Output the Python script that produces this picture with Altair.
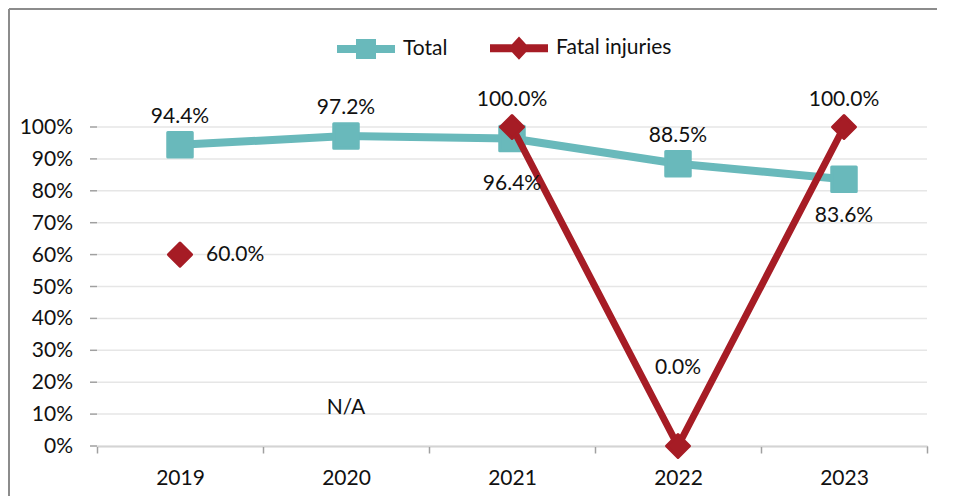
import altair as alt
import pandas as pd

years = ["2019", "2020", "2021", "2022", "2023"]
total = [94.4, 97.2, 96.4, 88.5, 83.6]
fatal = [60.0, None, 100.0, 0.0, 100.0]
series_names = ["Total", "Fatal injuries"]
series_colors = ["#69B9BB", "#A61C25"]
y_ticks = [0, 10, 20, 30, 40, 50, 60, 70, 80, 90, 100]

rows = []
for y, v in zip(years, total):
    rows.append({"year": y, "series": "Total", "value": v})
for y, v in zip(years, fatal):
    rows.append({"year": y, "series": "Fatal injuries", "value": v})
df = pd.DataFrame(rows)
ticks_df = pd.DataFrame({"value": y_ticks})

FONT = "Lato"
FS = 21
W, H = 830, 319
AXIS_COL = "#a0a0a0"

color_scale = alt.Scale(domain=series_names, range=series_colors)
legend_paths = [
    "M-1,-0.14H1V0.14H-1Z M-0.345,-0.345H0.345V0.345H-0.345Z",
    "M-1,-0.14H1V0.14H-1Z M0,-0.4L0.37,0L0,0.4L-0.37,0Z",
]

x_enc = alt.X(
    "year:N", sort=years,
    scale=alt.Scale(paddingInner=0, paddingOuter=0),
    axis=alt.Axis(title=None, labelAngle=0, tickBand="extent", grid=False,
                  domainColor=AXIS_COL, domainWidth=1.5, tickColor=AXIS_COL,
                  tickWidth=1.5, tickSize=7, labelPadding=14, labelFontSize=FS,
                  labelFont=FONT, labelColor="#111"),
)
y_scale = alt.Scale(domain=[0, 100], nice=False)
y_enc = alt.Y(
    "value:Q", scale=y_scale,
    axis=alt.Axis(title=None, labels=False, ticks=False, grid=False,
                  domainColor=AXIS_COL, domainWidth=1.5),
)
col_enc = alt.Color("series:N", scale=color_scale, legend=None)
stroke_enc = alt.Stroke("series:N", scale=color_scale, legend=None)

base = alt.Chart(df).encode(x=x_enc, y=y_enc)

tot = base.transform_filter("datum.series === 'Total'")
fat = base.transform_filter("datum.series === 'Fatal injuries'")

# y gridlines, ticks and labels from the tick list, positioned by the y scale
tick_base = alt.Chart(ticks_df).encode(y=alt.Y("value:Q", scale=y_scale, axis=None))
grid = tick_base.mark_rule(color="#e6e6e6", strokeWidth=1.5).encode(
    x=alt.value(0), x2=alt.value(W))
yticks = tick_base.mark_rule(color=AXIS_COL, strokeWidth=1.5).encode(
    x=alt.value(-7), x2=alt.value(0))
ylabels = tick_base.transform_calculate(label="datum.value + '%'").mark_text(
    font=FONT, fontSize=FS, color="#111", align="right", baseline="middle", dy=1
).encode(x=alt.value(-24), text="label:N")

leg = alt.Legend(orient="none", legendX=240, legendY=-108, direction="horizontal",
                 symbolSize=3364, symbolStrokeWidth=0, labelFont=FONT,
                 labelFontSize=FS, labelColor="#111", labelOffset=8,
                 columnPadding=42, padding=0, symbolOpacity=1)
legend_layer = base.transform_filter("false").mark_point(filled=True, opacity=1).encode(
    color=alt.Color("series:N", scale=color_scale, title=None, legend=leg),
    shape=alt.Shape("series:N", scale=alt.Scale(domain=series_names, range=legend_paths),
                    title=None, legend=leg),
)

tot_line = tot.mark_line(strokeWidth=8, strokeJoin="round", strokeCap="round").encode(color=col_enc)
tot_pts = tot.mark_point(shape="square", filled=True, size=600, opacity=1, strokeWidth=3,
                         strokeJoin="round").encode(color=col_enc, stroke=stroke_enc)
fat_line = fat.mark_line(strokeWidth=7, strokeJoin="round", strokeCap="round",
                         invalid="break-paths-filter-domains").encode(color=col_enc)
fat_pts = fat.transform_filter("isValid(datum.value)").mark_point(
    shape="diamond", filled=True, size=529, opacity=1, strokeWidth=3, strokeJoin="round"
).encode(color=col_enc, stroke=stroke_enc)

txt = dict(font=FONT, fontSize=FS, color="#111", baseline="middle")
lab = "format(datum.value, '.1f') + '%'"


def labels(src, yrs, **kw):
    return src.transform_filter(alt.FieldOneOfPredicate(field="year", oneOf=yrs)) \
        .transform_calculate(label=lab).mark_text(**txt, **kw).encode(text="label:N")


tot_above = labels(tot, ["2019", "2020", "2022"], dy=-28)
tot_below1 = labels(tot, ["2021"], dy=46)
tot_below2 = labels(tot, ["2023"], dy=37)
fat_right = labels(fat, ["2019"], dx=26, align="left")
fat_above = labels(fat, ["2021", "2023"], dy=-27)
fat_zero = labels(fat, ["2022"], dy=-78)
fat_na = fat.transform_filter("!isValid(datum.value)") \
    .transform_calculate(label="'N/A'", value="0").mark_text(dy=-38, **txt) \
    .encode(text="label:N")

frame = alt.Chart(alt.Data(values=[{}]))
frame_left = frame.mark_rule(color="#8c8c8c", strokeWidth=2).encode(
    x=alt.value(-88), y=alt.value(-118), y2=alt.value(H + 50))
frame_top = frame.mark_rule(color="#8c8c8c", strokeWidth=2).encode(
    x=alt.value(-88), x2=alt.value(W + 10), y=alt.value(-118))

chart = alt.layer(
    legend_layer, grid, yticks, ylabels,
    tot_line, tot_pts, fat_line, fat_pts,
    tot_above, tot_below1, tot_below2, fat_right, fat_above, fat_zero, fat_na,
    frame_left, frame_top,
).properties(
    width=W, height=H,
    autosize=alt.AutoSizeParams(type="none"),
    padding={"left": 89, "top": 119, "right": 10, "bottom": 50},
    background="white",
).configure_view(stroke=None)

chart.save("out.html", embed_options={"renderer": "svg", "actions": False})
